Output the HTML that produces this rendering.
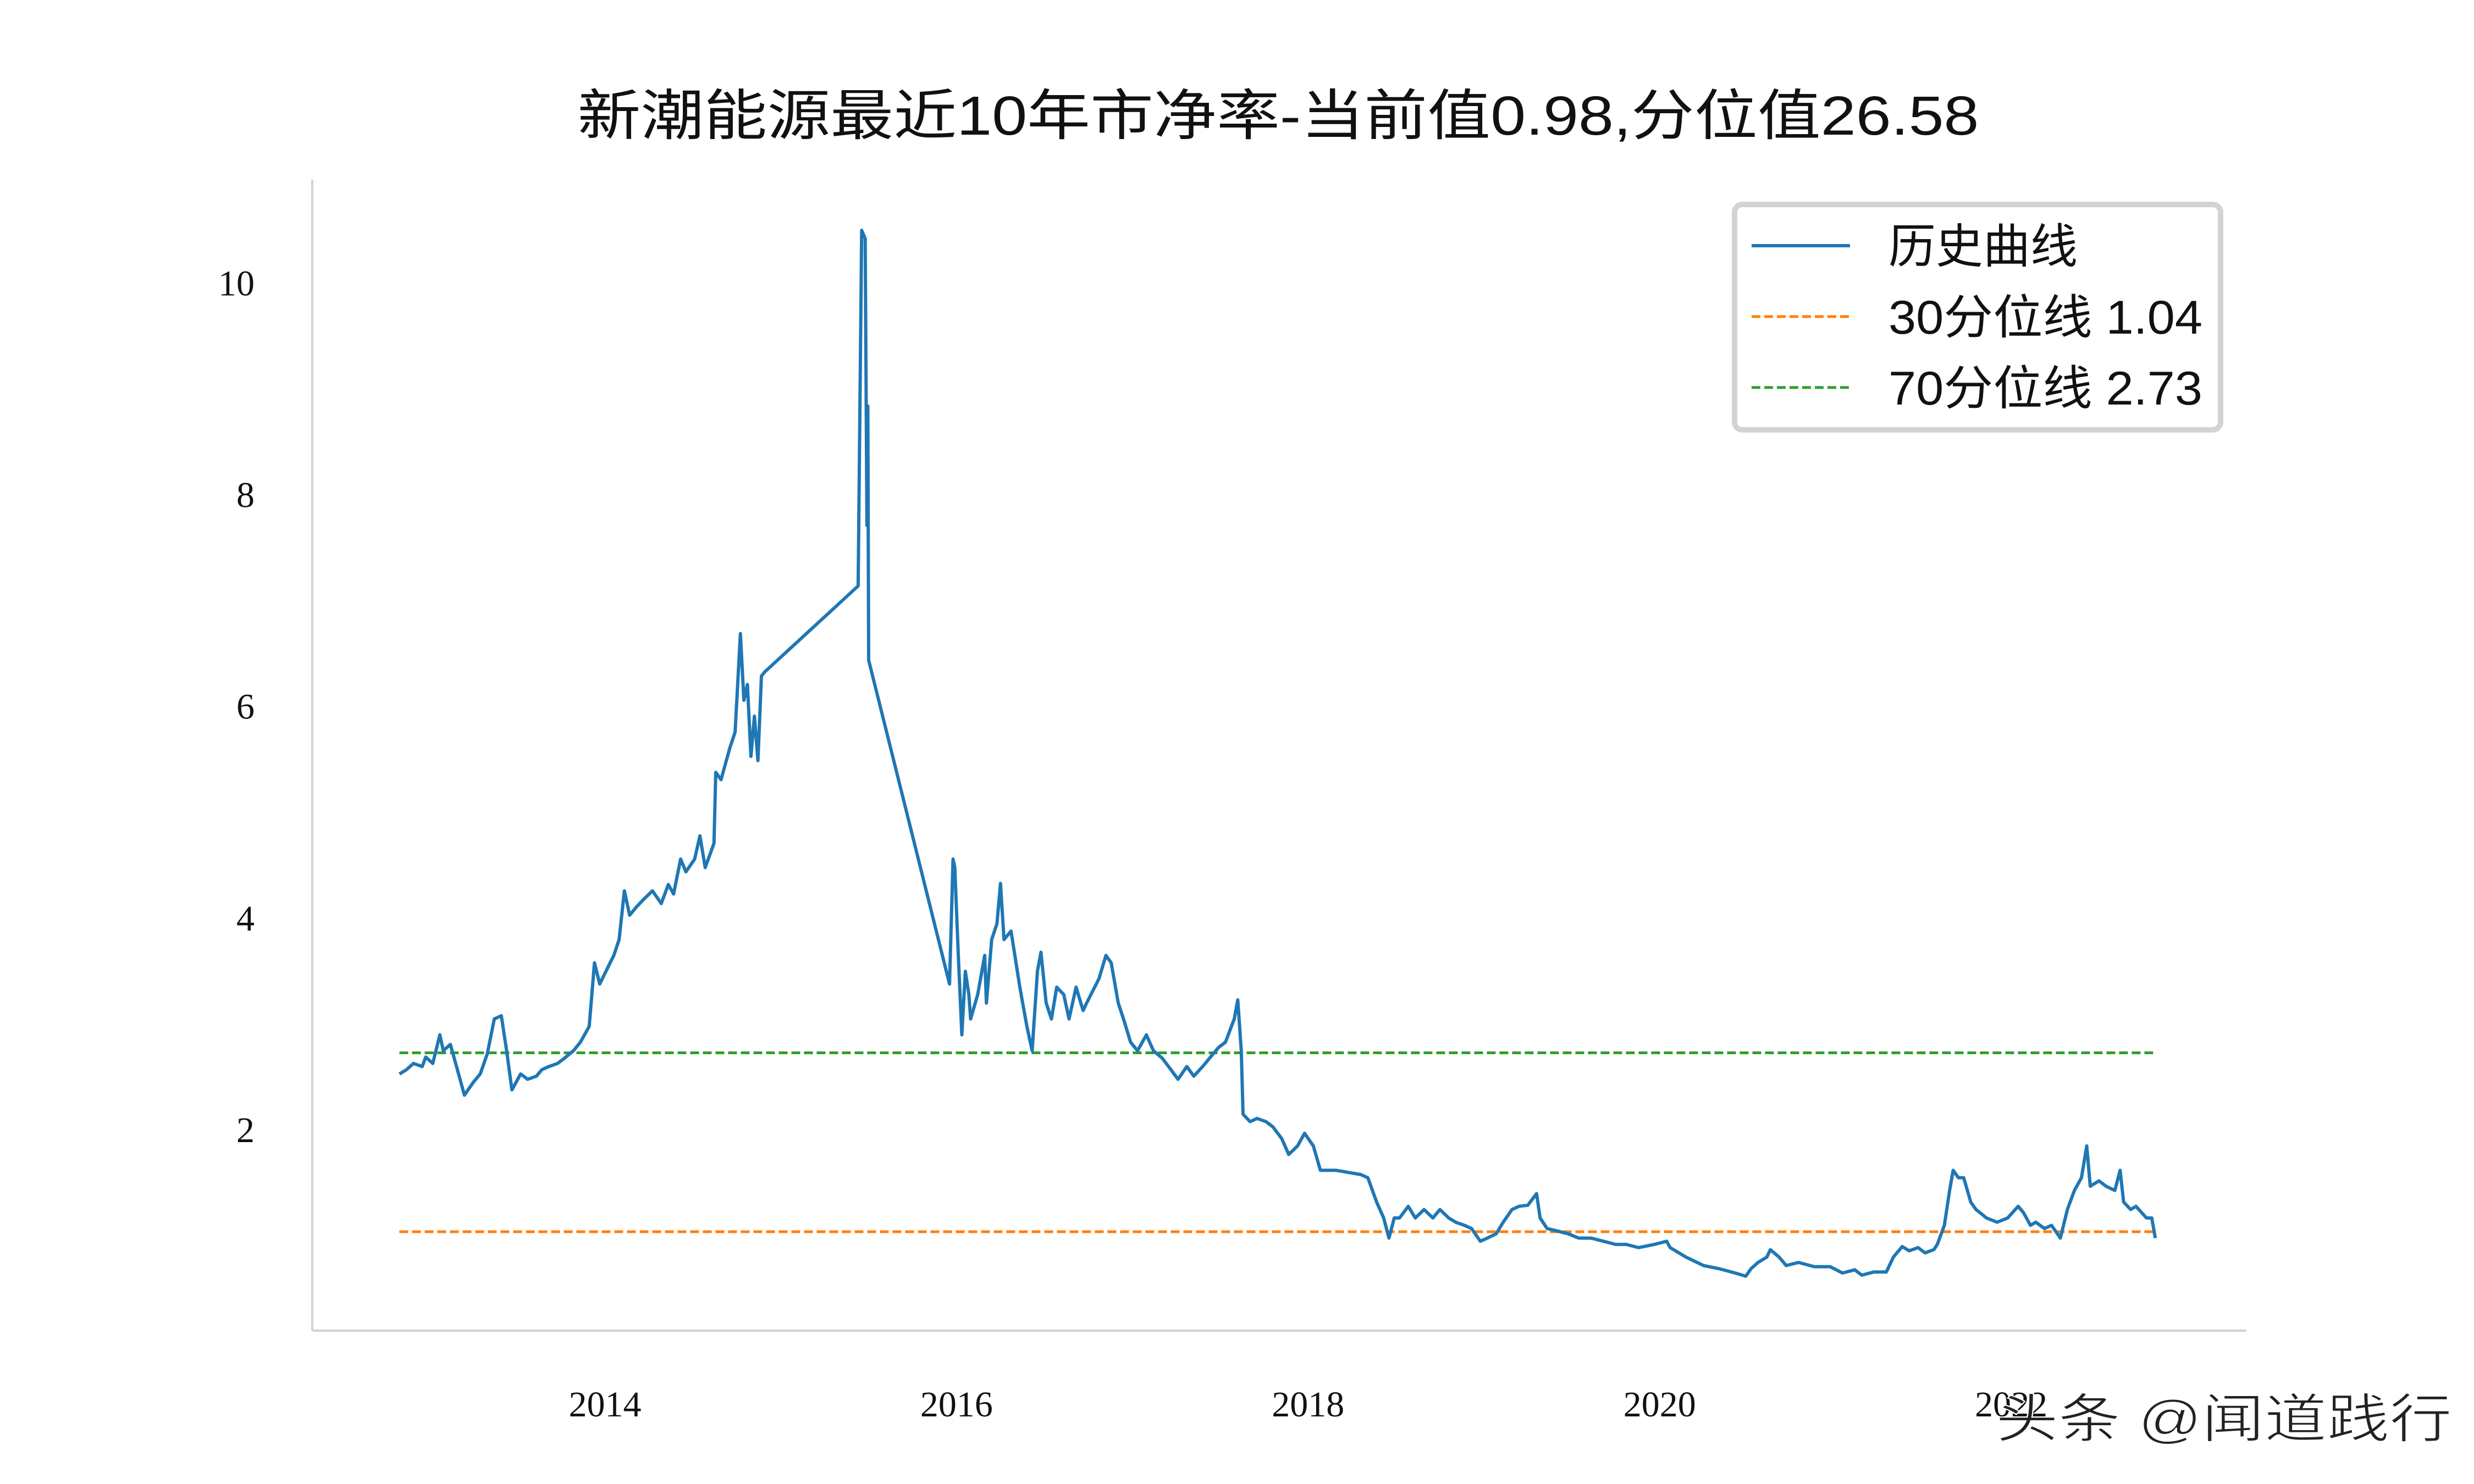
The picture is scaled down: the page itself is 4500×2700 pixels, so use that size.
<!DOCTYPE html>
<html><head><meta charset="utf-8">
<style>
html,body{margin:0;padding:0;background:#fff;}
svg{display:block;}
text{font-family:"Liberation Serif","Noto Serif CJK SC",serif;}
.cjk{font-family:"Liberation Sans","Noto Sans CJK SC",sans-serif;}
</style></head>
<body>
<svg id="chart" width="4500" height="2700" viewBox="0 0 4500 2700" xmlns="http://www.w3.org/2000/svg">
<text class="cjk" x="2325" y="245" font-size="100" text-anchor="middle" textLength="2549" lengthAdjust="spacingAndGlyphs" fill="#111">新潮能源最近10年市净率-当前值0.98,分位值26.58</text>
<line x1="568" y1="327" x2="568" y2="2421" stroke="#d3d3d3" stroke-width="4"/>
<line x1="568" y1="2421" x2="4086" y2="2421" stroke="#d3d3d3" stroke-width="4"/>
<g id="yticks"></g>
<g id="xticks"></g>
<g id="series"></g>
<g>
<rect x="3155" y="372" width="884" height="410" rx="14" fill="#fff" stroke="#d3d3d3" stroke-width="10"/>
<line x1="3186" y1="447" x2="3365" y2="447" stroke="#1f77b4" stroke-width="6"/>
<text class="cjk" x="3435" y="478" font-size="86" fill="#111">历史曲线</text>
<line x1="3186" y1="576" x2="3365" y2="576" stroke="#ff7f0e" stroke-width="5" stroke-dasharray="16 7"/>
<text class="cjk" x="3435" y="607" font-size="86" fill="#111" textLength="571" lengthAdjust="spacingAndGlyphs">30分位线 1.04</text>
<line x1="3186" y1="705" x2="3365" y2="705" stroke="#2ca02c" stroke-width="5" stroke-dasharray="16 7"/>
<text class="cjk" x="3435" y="736" font-size="86" fill="#111" textLength="571" lengthAdjust="spacingAndGlyphs">70分位线 2.73</text>
</g>
<text class="cjk" x="3630" y="2615" font-size="96" fill="#222" stroke="#fff" stroke-width="2" textLength="830" lengthAdjust="spacingAndGlyphs">头条 @闻道践行</text>
</svg>
<script>
const years = [2012.83,2012.87,2012.91,2012.96,2012.98,2013.02,2013.06,2013.08,2013.12,2013.16,2013.20,2013.25,2013.29,2013.33,2013.37,2013.41,2013.44,2013.47,2013.52,2013.56,2013.61,2013.64,2013.68,2013.73,2013.77,2013.82,2013.86,2013.91,2013.94,2013.97,2014.02,2014.05,2014.08,2014.11,2014.14,2014.18,2014.22,2014.27,2014.32,2014.36,2014.39,2014.43,2014.46,2014.51,2014.54,2014.57,2014.62,2014.63,2014.66,2014.71,2014.74,2014.77,2014.79,2014.81,2014.83,2014.85,2014.87,2014.89,2014.91,2015.44,2015.46,2015.48,2015.49,2015.495,2015.50,2015.96,2015.98,2015.99,2016.01,2016.03,2016.05,2016.07,2016.08,2016.12,2016.16,2016.17,2016.20,2016.23,2016.25,2016.27,2016.31,2016.36,2016.40,2016.43,2016.46,2016.48,2016.51,2016.54,2016.57,2016.61,2016.64,2016.68,2016.72,2016.74,2016.81,2016.85,2016.88,2016.92,2016.95,2016.99,2017.03,2017.08,2017.12,2017.17,2017.22,2017.26,2017.31,2017.35,2017.40,2017.44,2017.49,2017.53,2017.58,2017.60,2017.62,2017.63,2017.67,2017.71,2017.76,2017.80,2017.85,2017.89,2017.94,2017.98,2018.03,2018.07,2018.16,2018.30,2018.34,2018.39,2018.43,2018.46,2018.49,2018.52,2018.57,2018.61,2018.66,2018.71,2018.75,2018.80,2018.84,2018.89,2018.93,2018.98,2019.02,2019.07,2019.11,2019.16,2019.20,2019.25,2019.30,2019.32,2019.36,2019.41,2019.48,2019.54,2019.61,2019.68,2019.75,2019.81,2019.88,2019.97,2020.04,2020.06,2020.15,2020.25,2020.34,2020.43,2020.49,2020.52,2020.56,2020.61,2020.63,2020.68,2020.72,2020.79,2020.88,2020.97,2021.04,2021.11,2021.15,2021.22,2021.29,2021.33,2021.38,2021.42,2021.47,2021.51,2021.56,2021.58,2021.62,2021.65,2021.67,2021.70,2021.73,2021.77,2021.80,2021.86,2021.92,2021.98,2022.04,2022.07,2022.11,2022.14,2022.19,2022.23,2022.28,2022.32,2022.36,2022.40,2022.43,2022.45,2022.50,2022.54,2022.59,2022.62,2022.64,2022.68,2022.71,2022.77,2022.80,2022.82];
const pbValues = [2.53,2.57,2.63,2.60,2.69,2.63,2.90,2.75,2.81,2.57,2.33,2.45,2.53,2.72,3.05,3.08,2.75,2.38,2.53,2.48,2.51,2.57,2.60,2.63,2.68,2.75,2.83,2.98,3.58,3.38,3.55,3.65,3.80,4.26,4.03,4.11,4.18,4.26,4.14,4.32,4.23,4.56,4.44,4.56,4.78,4.48,4.71,5.38,5.31,5.61,5.76,6.69,6.06,6.21,5.53,5.91,5.49,6.29,6.33,7.14,10.50,10.42,7.71,8.84,6.44,3.38,4.56,4.48,3.65,2.90,3.50,3.28,3.05,3.28,3.65,3.20,3.80,3.95,4.33,3.80,3.88,3.35,2.98,2.75,3.50,3.68,3.20,3.05,3.35,3.28,3.05,3.35,3.13,3.20,3.43,3.65,3.58,3.20,3.05,2.83,2.75,2.90,2.75,2.68,2.57,2.48,2.60,2.51,2.60,2.68,2.78,2.83,3.05,3.23,2.75,2.15,2.08,2.11,2.08,2.03,1.92,1.77,1.85,1.97,1.85,1.62,1.62,1.58,1.55,1.32,1.17,0.98,1.17,1.17,1.28,1.17,1.25,1.17,1.25,1.17,1.13,1.10,1.07,0.95,0.98,1.02,1.13,1.25,1.28,1.29,1.40,1.17,1.07,1.05,1.02,0.98,0.98,0.95,0.92,0.92,0.89,0.92,0.95,0.89,0.80,0.72,0.69,0.65,0.62,0.69,0.75,0.80,0.87,0.80,0.72,0.75,0.71,0.71,0.65,0.68,0.63,0.66,0.66,0.80,0.90,0.86,0.89,0.84,0.87,0.92,1.10,1.43,1.62,1.55,1.55,1.32,1.25,1.17,1.13,1.17,1.28,1.22,1.10,1.13,1.07,1.10,0.98,1.25,1.43,1.55,1.85,1.47,1.52,1.47,1.43,1.62,1.32,1.25,1.28,1.17,1.17,0.98];
const p30 = 1.04;
const p70 = 2.73;
const yTickValues = [2,4,6,8,10];
const xTickYears = [2014,2016,2018,2020,2022];

const NS = "http://www.w3.org/2000/svg";
function xScale(yr){ return 1100.5 + (yr - 2014) * 319.7; }
function yScale(v){ return 2441.3 - v * 192.6; }

const yt = document.getElementById('yticks');
yTickValues.forEach(v => {
  const t = document.createElementNS(NS,'text');
  
  
  t.setAttribute('x', 463); t.setAttribute('y', yScale(v) + 22);
  t.setAttribute('text-anchor','end'); t.setAttribute('font-size','66'); t.setAttribute('fill','#111');
  t.textContent = v; yt.appendChild(t);
});
const xt = document.getElementById('xticks');
xTickYears.forEach(yr => {
  const t = document.createElementNS(NS,'text');
  
  
  t.setAttribute('x', xScale(yr)); t.setAttribute('y', 2577);
  t.setAttribute('text-anchor','middle'); t.setAttribute('font-size','66'); t.setAttribute('fill','#111');
  t.textContent = yr; xt.appendChild(t);
});

const g = document.getElementById('series');
const x0 = xScale(years[0]), x1 = xScale(years[years.length-1]);
[[p70,'#2ca02c','p70-line'],[p30,'#ff7f0e','p30-line']].forEach(([v,c,n]) => {
  const l = document.createElementNS(NS,'line');
  
  
  l.setAttribute('x1', x0); l.setAttribute('x2', x1);
  l.setAttribute('y1', yScale(v)); l.setAttribute('y2', yScale(v));
  l.setAttribute('stroke', c); l.setAttribute('stroke-width','5'); l.setAttribute('stroke-dasharray','16 7');
  g.appendChild(l);
});
const p = document.createElementNS(NS,'polyline');


p.setAttribute('points', years.map((yr,i) => xScale(yr).toFixed(1)+','+yScale(pbValues[i]).toFixed(1)).join(' '));
p.setAttribute('fill','none'); p.setAttribute('stroke','#1f77b4'); p.setAttribute('stroke-width','6'); p.setAttribute('stroke-linejoin','round');
g.appendChild(p);
</script>
</body></html>
